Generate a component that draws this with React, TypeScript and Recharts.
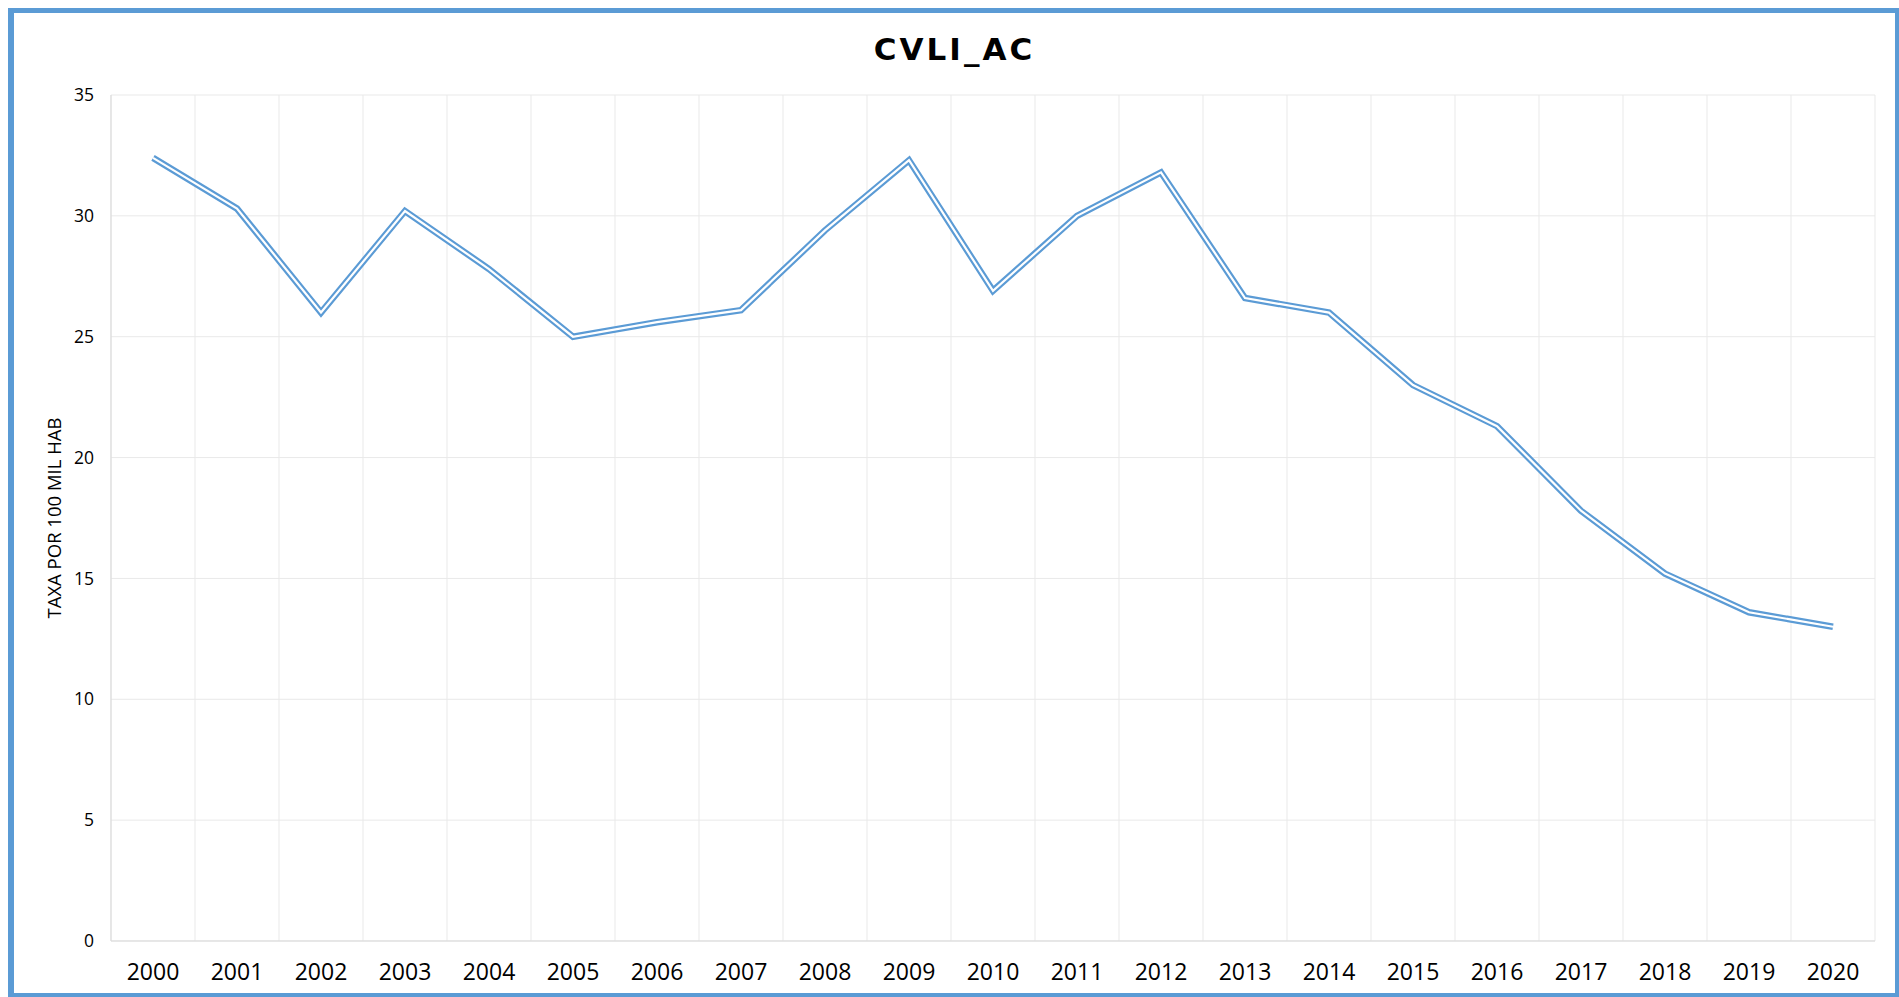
import { LineChart, Line, XAxis, YAxis, CartesianGrid, ReferenceLine } from "recharts"

const years = [
  2000, 2001, 2002, 2003, 2004, 2005, 2006, 2007, 2008, 2009, 2010,
  2011, 2012, 2013, 2014, 2015, 2016, 2017, 2018, 2019, 2020,
]
const rates = [
  32.4, 30.3, 26.0, 30.2, 27.8, 25.0, 25.6, 26.1, 29.4, 32.3, 26.9,
  30.0, 31.8, 26.6, 26.0, 23.0, 21.3, 17.8, 15.2, 13.6, 13.0,
]
const yTicks = [0, 5, 10, 15, 20, 25, 30, 35]

const data = years.map((year, i) => ({ year, rate: rates[i] }))
// vertical grid sits between the years, like a category band
const bandEdges = years.map((y) => y - 0.5).concat(years[years.length - 1] + 0.5)

const BLUE = "#5b9bd5"
const GRID = "#e9e9e9"
const FONT = "'Open Sans', sans-serif"

export default function App() {
  return (
    <div
      style={{
        position: "fixed",
        left: 8,
        top: 8,
        width: 1893,
        height: 991,
        boxSizing: "border-box",
        borderStyle: "solid",
        borderColor: BLUE,
        borderWidth: "5px 6px 6px 6px",
        background: "#fff",
      }}
    >
      <div
        style={{
          position: "absolute",
          left: 0,
          top: 21,
          width: 1881,
          textAlign: "center",
          fontFamily: "'DejaVu Sans', sans-serif",
          fontWeight: "bold",
          fontSize: 31,
          lineHeight: "31px",
          letterSpacing: 3,
          color: "#000",
        }}
      >
        CVLI_AC
      </div>
      <LineChart
        width={1881}
        height={980}
        data={data}
        margin={{ top: 82, right: 20, left: 0, bottom: 0 }}
      >
        <CartesianGrid vertical={false} stroke={GRID} />
        {bandEdges.map((x) => (
          <ReferenceLine key={x} x={x} stroke={GRID} />
        ))}
        <XAxis
          dataKey="year"
          type="number"
          domain={[bandEdges[0], bandEdges[bandEdges.length - 1]]}
          ticks={years}
          interval={0}
          height={52}
          tickLine={false}
          tickSize={0}
          tickMargin={23}
          axisLine={{ stroke: "#d9d9d9" }}
          tick={{ fill: "#000", fontSize: 23, fontFamily: FONT }}
        />
        <YAxis
          domain={[0, 35]}
          ticks={yTicks}
          width={97}
          tickLine={false}
          tickSize={0}
          tickMargin={17}
          axisLine={{ stroke: "#d9d9d9" }}
          tick={{ fill: "#000", fontSize: 17.5, fontFamily: FONT }}
          label={{
            value: "TAXA POR 100 MIL HAB",
            angle: -90,
            position: "center",
            dx: -8,
            style: { fill: "#000", fontSize: 18.5, fontFamily: FONT },
          }}
        />
        <Line
          dataKey="rate"
          stroke={BLUE}
          strokeWidth={6.5}
          dot={false}
          activeDot={false}
          isAnimationActive={false}
        />
        <Line
          dataKey="rate"
          stroke="#fff"
          strokeWidth={2.2}
          dot={false}
          activeDot={false}
          isAnimationActive={false}
        />
      </LineChart>
    </div>
  )
}
